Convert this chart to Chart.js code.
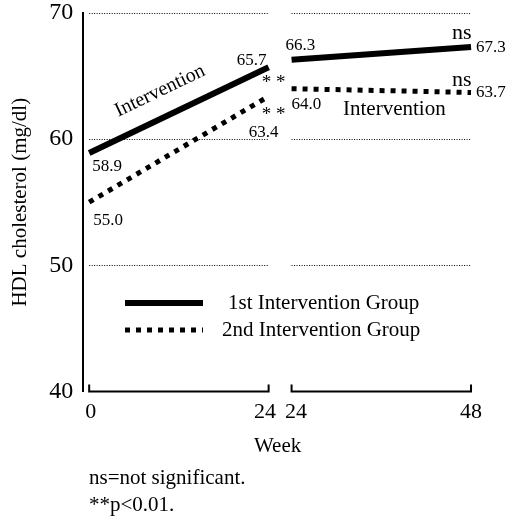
<!DOCTYPE html>
<html>
<head>
<meta charset="utf-8">
<script src="https://cdn.jsdelivr.net/npm/chart.js@4.4.1/dist/chart.umd.min.js"></script>
<style>
  html, body { margin: 0; padding: 0; background: #fff; }
  #wrap { width: 510px; height: 516px; }
</style>
</head>
<body>
<div id="wrap"><canvas id="my-chart" width="510" height="516"></canvas></div>
<script>
"use strict";

// weeks for each phase of the study
const weeksPhase1 = [0, 24];
const weeksPhase2 = [24, 48];

// HDL cholesterol (mg/dl)
const group1Phase1 = [58.9, 65.7];
const group2Phase1 = [55.0, 63.4];
const group1Phase2 = [66.3, 67.3];
const group2Phase2 = [64.0, 63.7];

const seriesNames = ["1st Intervention Group", "2nd Intervention Group"];
const yTicks = [40, 50, 60, 70];
const xTickWeeks = [0, 24, 24, 48];
const gridValues = [50, 60, 70];
const footnotes = ["ns=not significant.", "**p<0.01."];

// the second phase is drawn a little to the right of the first one
const PHASE_GAP = 3.07;
// small shifts so the two "24" labels don't touch (in week units)
const tickLabelNudge = [0.2, -0.5, 0.6, 0];
const FONT = "'Liberation Serif', 'Times New Roman', serif";

function toPoints(weeks, values, shift) {
  const pts = [];
  for (let i = 0; i < weeks.length; i++) {
    pts.push({ x: weeks[i] + shift, y: values[i] });
  }
  return pts;
}

const tickPositions = [
  weeksPhase1[0], weeksPhase1[1],
  weeksPhase2[0] + PHASE_GAP, weeksPhase2[1] + PHASE_GAP,
];

const solidStyle = { borderColor: "#000", borderWidth: 6, borderCapStyle: "butt" };
const dottedStyle = { borderColor: "#000", borderWidth: 5, borderDash: [5, 6], borderCapStyle: "butt" };

// text that sits next to the data, offsets are in pixels from the data point
const valueLabels = [
  { x: weeksPhase1[0], y: group1Phase1[0], text: group1Phase1[0].toFixed(1), dx: 3, dy: 14 },
  { x: weeksPhase1[0], y: group2Phase1[0], text: group2Phase1[0].toFixed(1), dx: 4, dy: 18 },
  { x: weeksPhase1[1], y: group1Phase1[1], text: group1Phase1[1].toFixed(1), dx: -32, dy: -7 },
  { x: weeksPhase1[1], y: group2Phase1[1], text: group2Phase1[1].toFixed(1), dx: -20, dy: 36 },
  { x: weeksPhase2[0] + PHASE_GAP, y: group1Phase2[0], text: group1Phase2[0].toFixed(1), dx: -6, dy: -14 },
  { x: weeksPhase2[0] + PHASE_GAP, y: group2Phase2[0], text: group2Phase2[0].toFixed(1), dx: 0, dy: 16 },
  { x: weeksPhase2[1] + PHASE_GAP, y: group1Phase2[1], text: group1Phase2[1].toFixed(1), dx: 5, dy: 0 },
  { x: weeksPhase2[1] + PHASE_GAP, y: group2Phase2[1], text: group2Phase2[1].toFixed(1), dx: 5, dy: 0 },
];

const markLabels = [
  { x: weeksPhase1[1], y: group1Phase1[1], text: "* *", dx: -7, dy: 16, size: 19 },
  { x: weeksPhase1[1], y: group2Phase1[1], text: "* *", dx: -7, dy: 19, size: 19 },
  { x: weeksPhase2[1] + PHASE_GAP, y: group1Phase2[1], text: "ns", dx: -19, dy: -14, size: 22 },
  { x: weeksPhase2[1] + PHASE_GAP, y: group2Phase2[1], text: "ns", dx: -19, dy: -12, size: 22 },
];

const overlayPlugin = {
  id: "overlay",
  beforeDatasetsDraw(chart) {
    const ctx = chart.ctx;
    const xs = chart.scales.x;
    const ys = chart.scales.y;
    const panels = [
      [xs.getPixelForValue(tickPositions[0]), xs.getPixelForValue(tickPositions[1])],
      [xs.getPixelForValue(tickPositions[2]), xs.getPixelForValue(tickPositions[3])],
    ];
    ctx.save();
    // dotted grid lines, one piece per panel
    ctx.strokeStyle = "#000";
    ctx.lineWidth = 1;
    ctx.setLineDash([1, 1.5]);
    for (const v of gridValues) {
      const y = Math.round(ys.getPixelForValue(v)) + 0.5;
      for (const p of panels) {
        ctx.beginPath();
        ctx.moveTo(p[0], y);
        ctx.lineTo(p[1], y);
        ctx.stroke();
      }
    }
    // x axis brackets
    ctx.setLineDash([]);
    ctx.lineWidth = 2;
    const yb = ys.getPixelForValue(yTicks[0]);
    for (const p of panels) {
      ctx.beginPath();
      ctx.moveTo(p[0], yb - 7);
      ctx.lineTo(p[0], yb);
      ctx.lineTo(p[1], yb);
      ctx.lineTo(p[1], yb - 7);
      ctx.stroke();
    }
    ctx.restore();
  },
  afterDatasetsDraw(chart) {
    const ctx = chart.ctx;
    const xs = chart.scales.x;
    const ys = chart.scales.y;
    ctx.save();
    ctx.fillStyle = "#000";
    ctx.textBaseline = "middle";
    ctx.textAlign = "left";

    ctx.font = "17px " + FONT;
    for (const l of valueLabels) {
      ctx.fillText(l.text, xs.getPixelForValue(l.x) + l.dx, ys.getPixelForValue(l.y) + l.dy);
    }
    for (const m of markLabels) {
      ctx.font = m.size + "px " + FONT;
      ctx.fillText(m.text, xs.getPixelForValue(m.x) + m.dx, ys.getPixelForValue(m.y) + m.dy);
    }

    // "Intervention" along the first solid segment
    const x0 = xs.getPixelForValue(weeksPhase1[0]);
    const y0 = ys.getPixelForValue(group1Phase1[0]);
    const x1 = xs.getPixelForValue(weeksPhase1[1]);
    const y1 = ys.getPixelForValue(group1Phase1[1]);
    const angle = Math.atan2(y1 - y0, x1 - x0);
    ctx.save();
    ctx.translate(160, 91);
    ctx.rotate(angle);
    ctx.textAlign = "center";
    ctx.font = "20px " + FONT;
    ctx.fillText("Intervention", 0, 0);
    ctx.restore();

    // "Intervention" under the second dotted segment
    ctx.font = "21px " + FONT;
    ctx.fillText("Intervention", 343, 109);

    // legend inside the plot
    const legendRows = [
      { style: solidStyle, y: 303, textX: 228 },
      { style: dottedStyle, y: 330, textX: 222 },
    ];
    for (let i = 0; i < legendRows.length; i++) {
      const r = legendRows[i];
      ctx.beginPath();
      ctx.strokeStyle = "#000";
      ctx.lineWidth = r.style.borderWidth;
      ctx.setLineDash(r.style.borderDash || []);
      ctx.moveTo(125, r.y);
      ctx.lineTo(203, r.y);
      ctx.stroke();
      ctx.setLineDash([]);
      ctx.font = "21px " + FONT;
      ctx.fillText(seriesNames[i], r.textX, r.y);
    }

    // footnotes
    ctx.font = "21px " + FONT;
    ctx.fillText(footnotes[0], 89, 478);
    ctx.fillText(footnotes[1], 89, 505);
    ctx.restore();
  },
};

const ctx = document.getElementById("my-chart");

new Chart(ctx, {
  type: "line",
  data: {
    datasets: [
      Object.assign({ label: seriesNames[0], data: toPoints(weeksPhase1, group1Phase1, 0) }, solidStyle),
      Object.assign({ label: seriesNames[1], data: toPoints(weeksPhase1, group2Phase1, 0) }, dottedStyle),
      Object.assign({ label: seriesNames[0], data: toPoints(weeksPhase2, group1Phase2, PHASE_GAP) }, solidStyle),
      Object.assign({ label: seriesNames[1], data: toPoints(weeksPhase2, group2Phase2, PHASE_GAP) }, dottedStyle),
    ],
  },
  options: {
    responsive: false,
    animation: false,
    events: [],
    layout: { padding: { top: 13, right: 38, bottom: 57, left: 8 } },
    elements: { point: { radius: 0 }, line: { tension: 0 } },
    plugins: {
      legend: { display: false },
      tooltip: { enabled: false },
    },
    scales: {
      x: {
        type: "linear",
        min: -0.8,
        max: 51.2,
        afterBuildTicks(scale) {
          scale.ticks = tickPositions.map((v, i) => ({ value: v + tickLabelNudge[i] }));
        },
        ticks: {
          autoSkip: false,
          maxRotation: 0,
          color: "#000",
          font: { family: FONT, size: 22 },
          padding: 8,
          callback: (value, index) => String(xTickWeeks[index]),
        },
        grid: { display: false, drawTicks: false },
        border: { display: false },
        title: {
          display: true,
          text: "Week",
          color: "#000",
          font: { family: FONT, size: 21 },
          padding: { top: 0, bottom: 0 },
        },
      },
      y: {
        min: 40,
        max: 70,
        afterBuildTicks(scale) {
          scale.ticks = yTicks.map((v) => ({ value: v }));
        },
        afterFit(scale) {
          // let the "70" label overhang the top instead of pushing the plot down
          scale.paddingTop = 0;
          scale.paddingBottom = 0;
        },
        ticks: {
          color: "#000",
          font: { family: FONT, size: 24 },
          padding: 10,
        },
        grid: { display: false, drawTicks: false },
        border: { display: true, color: "#000", width: 2 },
        title: {
          display: true,
          text: "HDL cholesterol (mg/dl)",
          color: "#000",
          font: { family: FONT, size: 21 },
          padding: { top: 0, bottom: 6 },
        },
      },
    },
  },
  plugins: [overlayPlugin],
});
</script>
</body>
</html>
